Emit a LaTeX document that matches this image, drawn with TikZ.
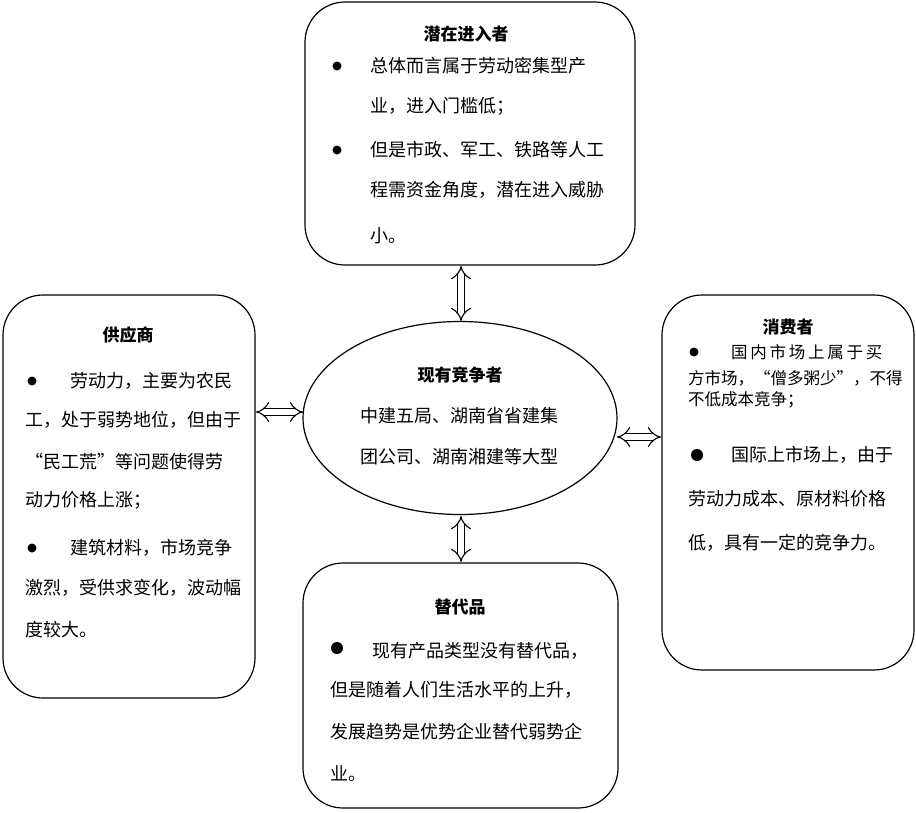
\documentclass[tikz,border=0pt]{standalone}
\usepackage{fontspec}
\setmainfont{Noto Sans CJK SC}
\usetikzlibrary{arrows.meta,shapes.geometric}
\tikzset{
 box/.style={draw, line width=1.2pt, rounded corners=40pt},
 ln/.style={anchor=west, inner sep=0pt, font=\fontsize{18}{18}\selectfont},
 lns/.style={anchor=west, inner sep=0pt, font=\fontsize{16.5}{16.5}\selectfont},
 ttl/.style={inner sep=0pt, font=\fontsize{17}{17}\selectfont\bfseries},
 bul/.style={fill=black, circle, inner sep=0pt, minimum size=9pt},
 dbl/.style={double distance=6pt, line width=1.1pt, {Implies[]}-{Implies[]}, shorten >=1pt, shorten <=1pt}
}
\begin{document}
\begin{tikzpicture}[x=1pt,y=-1pt]
\useasboundingbox (0,0) rectangle (916,812);
% boxes
\draw[box] (305,2) rectangle (635,265);
\draw[box] (3,295) rectangle (255,698);
\draw[box] (662,295) rectangle (914,670);
\draw[box] (303,563) rectangle (618,808);
\node[draw, line width=1.2pt, ellipse, minimum width=314pt, minimum height=193pt, inner sep=0pt] (c) at (460,418) {};
\coordinate (tb) at (461,265); \coordinate (ct) at (461,322);
\coordinate (lb) at (255,412); \coordinate (cl) at (304,412);
\coordinate (rb) at (662,437); \coordinate (cr) at (616,437);
\coordinate (bb) at (461,563); \coordinate (cb) at (461,515);
\draw[dbl] (tb) -- (ct);
\draw[dbl] (lb) -- (cl);
\draw[dbl] (rb) -- (cr);
\draw[dbl] (bb) -- (cb);
% top
\node[ttl] (t0) at (466,34) {潜在进入者};
\node[bul] (tb1) at (337,66) {};
\node[ln] (t1) at (370,66) {总体而言属于劳动密集型产};
\node[ln] (t2) at (370,106) {业，进入门槛低；};
\node[bul] (tb2) at (337,150) {};
\node[ln] (t3) at (370,150) {但是市政、军工、铁路等人工};
\node[ln] (t4) at (370,190) {程需资金角度，潜在进入威胁};
\node[ln] (t5) at (370,236) {小。};
% left
\node[ttl] (l0) at (128,335) {供应商};
\node[bul] (lb1) at (32,381) {};
\node[ln] (l1) at (70,381) {劳动力，主要为农民};
\node[ln] (l2) at (25,420) {工，处于弱势地位，但由于};
\node[ln] (l3) at (25,462) {“民工荒”等问题使得劳};
\node[ln] (l4) at (25,500) {动力价格上涨；};
\node[bul] (lb2) at (32,548) {};
\node[ln] (l5) at (70,548) {建筑材料，市场竞争};
\node[ln] (l6) at (25,588) {激烈，受供求变化，波动幅};
\node[ln] (l7) at (25,630) {度较大。};
% right
\node[ttl] (r0) at (788,327) {消费者};
\node[bul] (rb1) at (694,352) {};
\node[lns] (r1) at (731,352) {国\,内\,市\,场\,上\,属\,于\,买};
\node[lns] (r2) at (688,378) {方市场，“僧多粥少”，不得};
\node[lns] (r3) at (688,400) {不低成本竞争；};
\node[bul, minimum size=12pt] (rb2) at (697,455) {};
\node[ln] (r4) at (731,455) {国际上市场上，由于};
\node[ln] (r5) at (688,499) {劳动力成本、原材料价格};
\node[ln] (r6) at (688,543) {低，具有一定的竞争力。};
% center
\node[ttl] (c0) at (460,375) {现有竞争者};
\node[ln] (c1) at (360,416) {中建五局、湖南省省建集};
\node[ln] (c2) at (360,457) {团公司、湖南湘建等大型};
% bottom
\node[ttl] (b0) at (460,607) {替代品};
\node[bul, minimum size=12pt] (bb1) at (337,648) {};
\node[ln] (b1) at (372,651) {现有产品类型没有替代品，};
\node[ln] (b2) at (330,690) {但是随着人们生活水平的上升，};
\node[ln] (b3) at (330,732) {发展趋势是优势企业替代弱势企};
\node[ln] (b4) at (330,774) {业。};
\end{tikzpicture}
\end{document}
